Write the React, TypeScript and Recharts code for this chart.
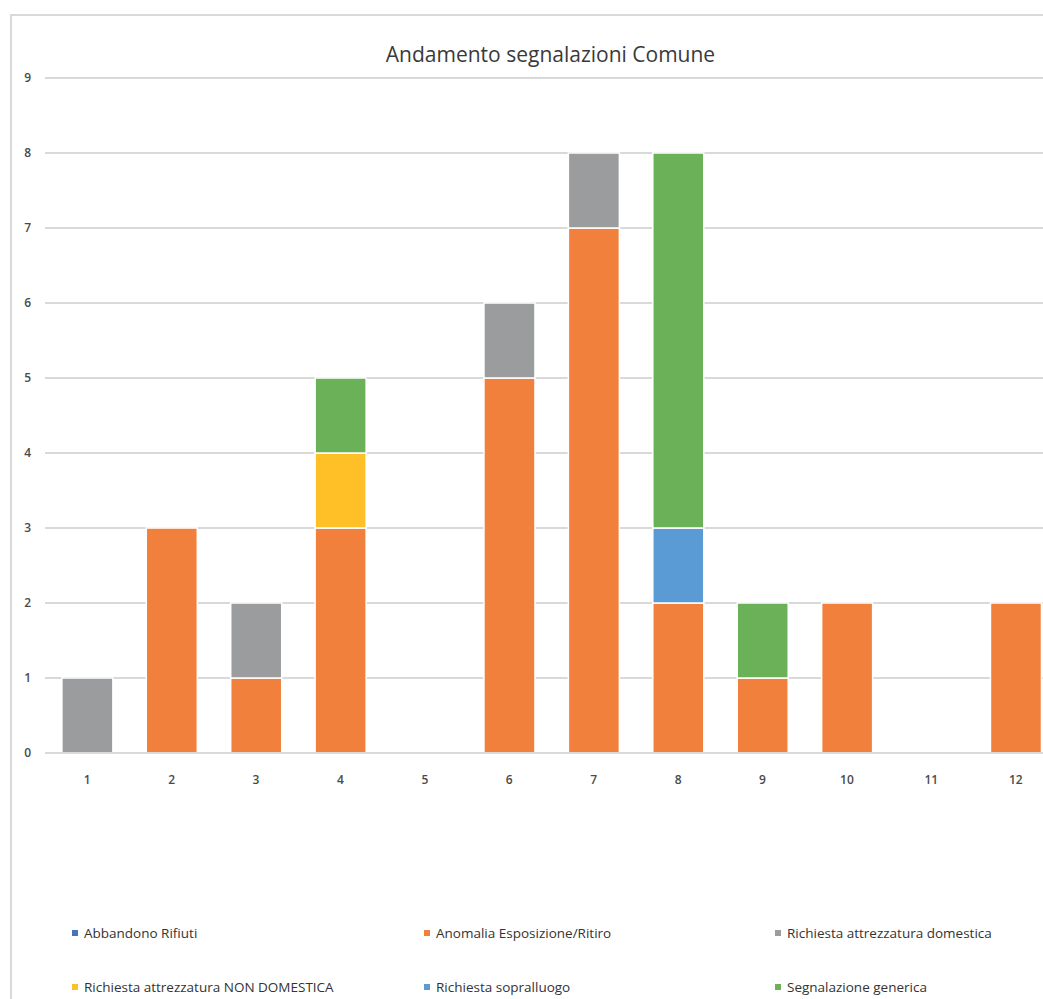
import { BarChart, Bar, XAxis, YAxis, CartesianGrid } from "recharts";

const months = ["1", "2", "3", "4", "5", "6", "7", "8", "9", "10", "11", "12"];
const abbandonoRifiuti = [0, 0, 0, 0, 0, 0, 0, 0, 0, 0, 0, 0];
const anomaliaEsposizione = [0, 3, 1, 3, 0, 5, 7, 2, 1, 2, 0, 2];
const attrezzaturaDomestica = [1, 0, 1, 0, 0, 1, 1, 0, 0, 0, 0, 0];
const attrezzaturaNonDomestica = [0, 0, 0, 1, 0, 0, 0, 0, 0, 0, 0, 0];
const sopralluogo = [0, 0, 0, 0, 0, 0, 0, 1, 0, 0, 0, 0];
const segnalazioneGenerica = [0, 0, 0, 1, 0, 0, 0, 5, 1, 0, 0, 0];
const yTicks = [0, 1, 2, 3, 4, 5, 6, 7, 8, 9];

const series = [
  { key: "abbandono", name: "Abbandono Rifiuti", values: abbandonoRifiuti, color: "#4472C4" },
  { key: "anomalia", name: "Anomalia Esposizione/Ritiro", values: anomaliaEsposizione, color: "#F0803C" },
  { key: "domestica", name: "Richiesta attrezzatura domestica", values: attrezzaturaDomestica, color: "#9A9C9E" },
  { key: "nonDomestica", name: "Richiesta attrezzatura NON DOMESTICA", values: attrezzaturaNonDomestica, color: "#FFC027" },
  { key: "sopralluogo", name: "Richiesta sopralluogo", values: sopralluogo, color: "#5B9BD5" },
  { key: "generica", name: "Segnalazione generica", values: segnalazioneGenerica, color: "#6AB157" },
];

const data = months.map((m, i) => {
  const row: Record<string, string | number> = { month: m };
  series.forEach(s => { row[s.key] = s.values[i]; });
  return row;
});

const font = "'Open Sans', 'Noto Sans', sans-serif";
const legendCols = [75, 427, 778];
const legendRows = [933, 987];

export default function App() {
  return (
    <div style={{ position: "absolute", left: 0, top: 0, width: 1043, height: 999, overflow: "hidden", background: "#fff", fontFamily: font }}>
      {/* chart frame, only top and left edges are visible */}
      <div style={{ position: "absolute", left: 10, top: 14, width: 1100, height: 1100, borderLeft: "2px solid #D9D9D9", borderTop: "2px solid #D9D9D9" }} />
      <div style={{ position: "absolute", left: 0, top: 42, width: 1101, textAlign: "center", fontSize: 21, color: "#3A3A3A", lineHeight: "24px" }}>
        Andamento segnalazioni Comune
      </div>
      <div style={{ position: "absolute", left: 0, top: 0 }}>
        <BarChart
          width={1070}
          height={999}
          data={data}
          margin={{ top: 78, right: 12, bottom: 216, left: 10 }}
          barCategoryGap="20%"
        >
          <CartesianGrid vertical={false} stroke="#D9D9D9" strokeWidth={2} />
          <XAxis
            dataKey="month"
            height={30}
            axisLine={{ stroke: "#D9D9D9", strokeWidth: 2 }}
            tickLine={false}
            tickMargin={16}
            tick={{ fontSize: 12, fill: "#4A4A4A", fontWeight: 600, fontFamily: font }}
          />
          <YAxis
            width={35}
            domain={[0, 9]}
            ticks={yTicks}
            axisLine={false}
            tickLine={false}
            tickMargin={8}
            tick={{ fontSize: 12, fill: "#4A4A4A", fontWeight: 600, fontFamily: font }}
          />
          {series.map(s => (
            <Bar
              key={s.key}
              dataKey={s.key}
              name={s.name}
              stackId="a"
              fill={s.color}
              stroke="#fff"
              strokeWidth={1.5}
              isAnimationActive={false}
            />
          ))}
        </BarChart>
      </div>
      {series.map((s, i) => (
        <div
          key={s.key}
          style={{
            position: "absolute",
            left: legendCols[i % 3] - 3,
            top: legendRows[Math.floor(i / 3)] - 9,
            height: 18,
            display: "flex",
            alignItems: "center",
            fontSize: 13.5,
            color: "#333",
            whiteSpace: "nowrap",
          }}
        >
          <span style={{ display: "inline-block", width: 6, height: 6, background: s.color, marginRight: 6 }} />
          {s.name}
        </div>
      ))}
    </div>
  );
}
